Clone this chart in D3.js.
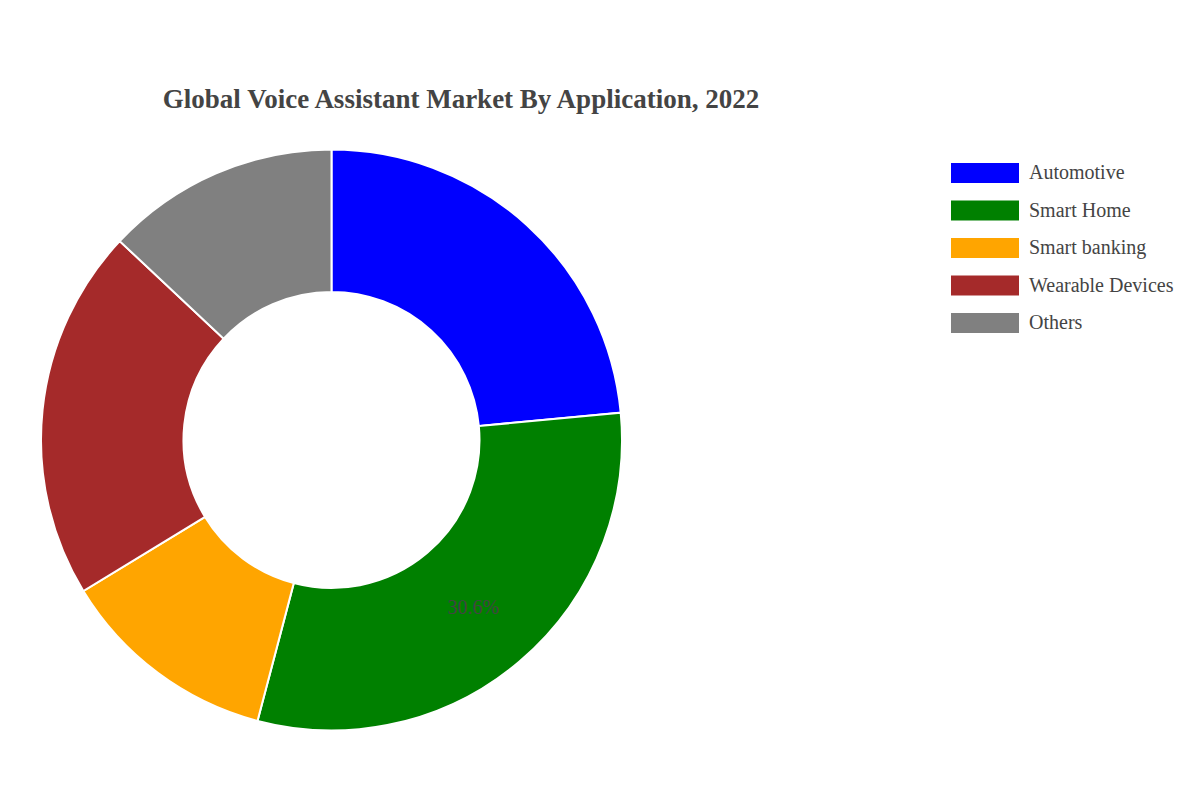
<!DOCTYPE html>
<html>
<head>
<meta charset="utf-8">
<script src="https://cdn.jsdelivr.net/npm/d3@7/dist/d3.min.js"></script>
<style>
  html, body { margin: 0; padding: 0; background: #fff; }
  svg { display: block; }
</style>
</head>
<body>
<svg id="chart" width="1200" height="800"></svg>
<script>
const categories = ["Automotive", "Smart Home", "Smart banking", "Wearable Devices", "Others"];
const shares = [23.5, 30.6, 12.2, 20.7, 13.0];
const sliceText = ["", "30.6%", "", "", ""];
const colors = ["#0000ff", "#008000", "#ffa500", "#a52a2a", "#808080"];
const titleText = "Global Voice Assistant Market By Application, 2022";

const svg = d3.select("#chart");
const font = "'Liberation Serif', 'Times New Roman', Times, serif";

const cx = 331.5, cy = 440, outerR = 290.5, innerR = 148;

svg.append("text")
  .attr("x", 461).attr("y", 108)
  .attr("text-anchor", "middle")
  .attr("font-family", font)
  .attr("font-size", 27)
  .attr("font-weight", "bold")
  .attr("fill", "#444")
  .text(titleText);

const data = categories.map((c, i) => ({ cat: c, value: shares[i], text: sliceText[i], color: colors[i] }));
const pie = d3.pie().sort(null).value(d => d.value);
const arcs = pie(data);
const arc = d3.arc().innerRadius(innerR).outerRadius(outerR);

const g = svg.append("g").attr("transform", `translate(${cx},${cy})`);
g.selectAll("path").data(arcs).enter().append("path")
  .attr("d", arc)
  .attr("fill", d => d.data.color)
  .attr("stroke", "#fff")
  .attr("stroke-width", 2);

g.selectAll("text.lbl").data(arcs.filter(d => d.data.text)).enter().append("text")
  .attr("class", "lbl")
  .attr("transform", d => `translate(${arc.centroid(d)})`)
  .attr("text-anchor", "middle")
  .attr("dy", "0.35em")
  .attr("font-family", font)
  .attr("font-size", 20)
  .attr("fill", "#444")
  .text(d => d.data.text);

const legendY = d3.scaleBand().domain(categories).range([154.25, 341.75]).paddingInner(0);
const legend = svg.append("g");
const items = legend.selectAll("g").data(data).enter().append("g")
  .attr("transform", d => `translate(0,${legendY(d.cat) + legendY.bandwidth() / 2})`);
items.append("rect")
  .attr("x", 951).attr("y", -10)
  .attr("width", 68).attr("height", 20)
  .attr("fill", d => d.color);
items.append("text")
  .attr("x", 1029).attr("y", 6)
  .attr("font-family", font)
  .attr("font-size", 20)
  .attr("fill", "#444")
  .text(d => d.cat);
</script>
</body>
</html>
